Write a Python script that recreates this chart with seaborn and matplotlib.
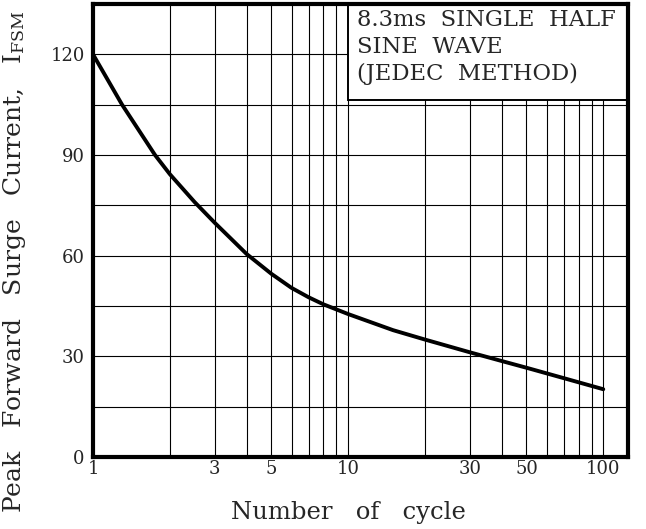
import numpy as np
import pandas as pd
import matplotlib
matplotlib.use("Agg")
import matplotlib.pyplot as plt
from matplotlib.patches import Rectangle
from matplotlib.ticker import FixedLocator, NullFormatter
import seaborn as sns

# values
cycles = [1, 1.3, 1.75, 2, 2.5, 3, 4, 5, 6, 7, 8, 10, 15, 20, 30, 40, 50, 70, 100]
current = [120, 105, 90, 84.3, 76.0, 69.8, 60.5, 54.6, 50.4, 47.6, 45.5, 42.6,
           37.8, 35.0, 31.2, 28.6, 26.6, 23.5, 20.2]

x_ticks = [1, 3, 5, 10, 30, 50, 100]
x_grid = [1, 2, 3, 4, 5, 6, 7, 8, 9, 10, 20, 30, 40, 50, 60, 70, 80, 90, 100]
y_ticks = [0, 30, 60, 90, 120]
y_grid = [0, 15, 30, 45, 60, 75, 90, 105, 120]
note = "8.3ms  SINGLE  HALF\nSINE  WAVE\n(JEDEC  METHOD)"

sns.set_style("white")
plt.rcParams['font.family'] = ['DejaVu Serif']
plt.rcParams['mathtext.fontset'] = 'dejavuserif'

df = pd.DataFrame({'cycles': cycles, 'current': current})

fig = plt.figure(figsize=(6.46, 5.29), dpi=100)
ax = fig.add_axes([93 / 646, 1 - 457 / 529, 535 / 646, 453 / 529])

ax.set_xscale('log')
ax.set_xlim(1, 125)
ax.set_ylim(0, 135)

# grid
for g in x_grid:
    ax.axvline(g, color='black', lw=0.8, zorder=1)
for g in y_grid:
    ax.axhline(g, color='black', lw=0.8, zorder=1)

sns.lineplot(data=df, x='cycles', y='current', ax=ax, color='black', lw=2.8, zorder=3)

# note box
ax.add_patch(Rectangle((10, 106.5), 125 - 10, 135 - 106.5, facecolor='white',
                       edgecolor='black', lw=1.4, zorder=4))
fig.text(357 / 646, 1 - 9 / 529, note, fontsize=16.3, va='top', ha='left',
         linespacing=1.3, zorder=5)

ax.set_xticks(x_ticks)
ax.set_xticklabels([str(t) for t in x_ticks], fontsize=13)
ax.xaxis.set_minor_locator(FixedLocator([]))
ax.xaxis.set_minor_formatter(NullFormatter())
ax.set_yticks(y_ticks)
ax.set_yticklabels([str(t) for t in y_ticks], fontsize=13)
ax.tick_params(axis='x', which='both', length=0, pad=2)
ax.tick_params(axis='y', which='both', length=0, pad=6)

for s in ax.spines.values():
    s.set_visible(True)
    s.set_color('black')
    s.set_linewidth(3)
    s.set_zorder(6)

ax.set_xlabel('')
ax.set_ylabel('')
fig.text(348 / 646, 1 - 513 / 529, 'Number   of   cycle', fontsize=17.5,
         ha='center', va='center')
fig.text(15 / 646, 1 - 262 / 529, r'Peak   Forward   Surge   Current,   I$_{\rm FSM}$',
         fontsize=18, rotation=90, ha='center', va='center')

fig.savefig('out.png', dpi=100)
